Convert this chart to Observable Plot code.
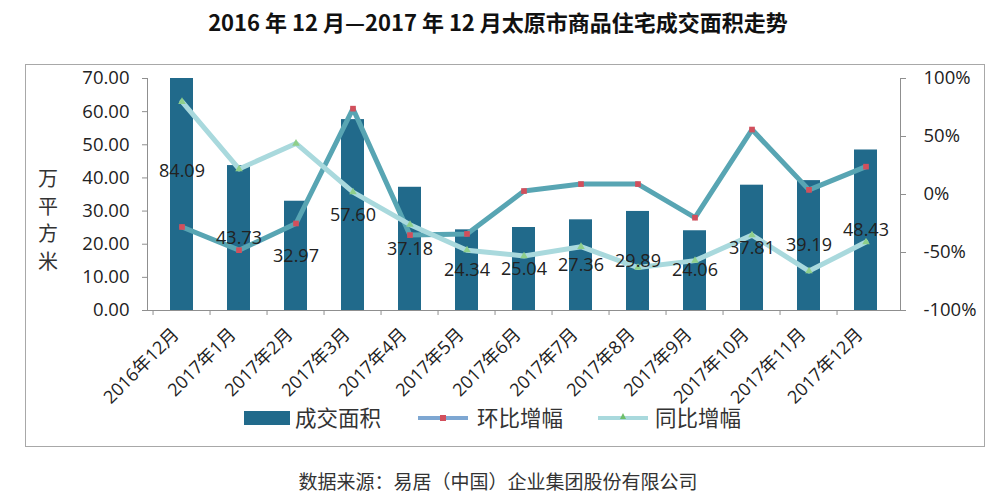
<!DOCTYPE html>
<html>
<head>
<meta charset="utf-8">
<script src="https://cdn.jsdelivr.net/npm/d3@7"></script>
<script src="https://cdn.jsdelivr.net/npm/@observablehq/plot@0.6"></script>
<style>
  html, body { margin: 0; padding: 0; background: #fff; }
  body { width: 1000px; height: 500px; position: relative; overflow: hidden;
         font-family: "Open Sans", "Noto Sans CJK SC", sans-serif; color: #222; }
  #title { position: absolute; top: 5px; left: 0; width: 996px; text-align: center;
           font-family: "Noto Sans CJK SC", sans-serif; font-weight: 700; font-size: 22px; color: #111; }
  #frame { position: absolute; left: 25px; top: 64px; width: 958px; height: 381px;
           border: 1px solid #a8a8a8; }
  #chart { position: absolute; left: 0; top: 64px; }
  #ylab { position: absolute; left: 37px; top: 164px; width: 22px; font-size: 20px; line-height: 27.5px;
          font-family: "Noto Sans CJK SC", sans-serif; color: #333; text-align: center; }
  .leg { position: absolute; top: 403px; font-family: "Noto Sans CJK SC", sans-serif; font-size: 21.5px;
         color: #333; line-height: 28px; }
  .sw { position: absolute; }
  #caption { position: absolute; top: 467px; left: 0; width: 996px; text-align: center;
             font-family: "Noto Sans CJK SC", sans-serif; font-size: 19px; color: #333; }
</style>
</head>
<body>
<div id="title">2016 年 12 月—2017 年 12 月太原市商品住宅成交面积走势</div>
<div id="frame"></div>
<div id="chart"></div>
<div id="ylab">万<br>平<br>方<br>米</div>
<div id="legend"></div>
<div id="caption">数据来源：易居（中国）企业集团股份有限公司</div>
<script>
// Monthly transaction area (10k m²) and growth rates (%)
const months = ["2016年12月", "2017年1月", "2017年2月", "2017年3月", "2017年4月", "2017年5月",
  "2017年6月", "2017年7月", "2017年8月", "2017年9月", "2017年10月", "2017年11月", "2017年12月"];
const area = [84.09, 43.73, 32.97, 57.60, 37.18, 24.34, 25.04, 27.36, 29.89, 24.06, 37.81, 39.19, 48.43];
const mom = [-28, -48, -25, 74, -35, -34, 3, 9, 9, -20, 56, 4, 24];   // 环比增幅
const yoy = [80, 22, 44, 2, -26, -48, -53, -45, -63, -57, -35, -66, -41]; // 同比增幅
const leftTicks = [0, 10, 20, 30, 40, 50, 60, 70];
const rightTicks = [-100, -50, 0, 50, 100];
const seriesNames = ["成交面积", "环比增幅", "同比增幅"];

const rows = months.map((m, i) => ({month: m, area: area[i], mom: mom[i], yoy: yoy[i]}));

// Percent axis (right) shares the pixel range of the area axis (left)
const areaMax = 70;
const pctToArea = p => (p + 100) * areaMax / 200;
const areaToPct = v => Math.round(v * 200 / areaMax - 100);

const barColor = "#216a8b";
const momColor = "#58a5b3";
const yoyColor = "#a9d9dd";
const axisColor = "#8f8f8f";

const marginLeft = 147, marginRight = 100;
const step = (1000 - marginLeft - marginRight) / months.length;

const chart = Plot.plot({
  width: 1000,
  height: 350,
  marginLeft, marginRight,
  marginTop: 14,
  marginBottom: 104,
  x: {domain: months, paddingInner: 0.6, paddingOuter: 0.3, label: null},
  y: {domain: [0, areaMax], label: null},
  style: {fontFamily: "'Open Sans', 'Noto Sans CJK SC', sans-serif", color: "#222", background: "transparent"},
  marks: [
    Plot.barY(rows, {x: "month", y: "area", fill: barColor, clip: true}),
    Plot.frame({anchor: "left", stroke: axisColor}),
    Plot.frame({anchor: "right", stroke: axisColor}),
    Plot.frame({anchor: "bottom", stroke: axisColor}),
    Plot.axisY(leftTicks, {anchor: "left", tickFormat: d3.format(".2f"), tickSize: 5, tickPadding: 13,
      fontSize: 18.5, stroke: axisColor, label: null}),
    Plot.axisY(rightTicks.map(pctToArea), {anchor: "right", tickFormat: v => areaToPct(v) + "%",
      tickSize: 5, tickPadding: 18, fontSize: 18.5, stroke: axisColor, label: null}),
    Plot.axisX({tickRotate: -45, tickSize: 0, tickPadding: 21, dx: -6, fontSize: 18, label: null}),
    // category boundary ticks below the baseline
    Plot.ruleX(months, {x: d => d, y1: 0, y2: -1.5, dx: -step / 2, stroke: axisColor}),
    // 环比增幅
    Plot.line(rows, {x: "month", y: d => pctToArea(d.mom), stroke: momColor, strokeWidth: 5, strokeLinejoin: "round"}),
    Plot.dot(rows, {x: "month", y: d => pctToArea(d.mom), symbol: "square", r: 3.2, fill: "#d24f5c", stroke: "none"}),
    // 同比增幅
    Plot.line(rows, {x: "month", y: d => pctToArea(d.yoy), stroke: yoyColor, strokeWidth: 5, strokeLinejoin: "round"}),
    Plot.dot(rows, {x: "month", y: d => pctToArea(d.yoy), symbol: "triangle", r: 2.8, fill: "#8fcf8a", stroke: "none"}),
    // area values, placed at half of each bar's value
    Plot.text(rows, {x: "month", y: d => d.area / 2, text: d => d.area.toFixed(2),
      fontSize: 18, fill: "#222"})
  ]
});
document.getElementById("chart").appendChild(chart);

// Legend
const legend = document.getElementById("legend");
function add(html) { legend.insertAdjacentHTML("beforeend", html); }
add(`<div class="sw" style="left:244px;top:411px;width:46px;height:14px;background:${barColor}"></div>`);
add(`<div class="leg" style="left:295px">${seriesNames[0]}</div>`);
add(`<div class="sw" style="left:418px;top:416px;width:50px;height:4px;background:#7ea7d2"></div>`);
add(`<div class="sw" style="left:440px;top:415px;width:6px;height:6px;background:#d24f5c"></div>`);
add(`<div class="leg" style="left:477px">${seriesNames[1]}</div>`);
add(`<div class="sw" style="left:598px;top:416px;width:50px;height:4px;background:${yoyColor}"></div>`);
add(`<div class="sw" style="left:620px;top:413px;width:0;height:0;border-left:3px solid transparent;border-right:3px solid transparent;border-bottom:6px solid #6fbf6a"></div>`);
add(`<div class="leg" style="left:655px">${seriesNames[2]}</div>`);
</script>
</body>
</html>
